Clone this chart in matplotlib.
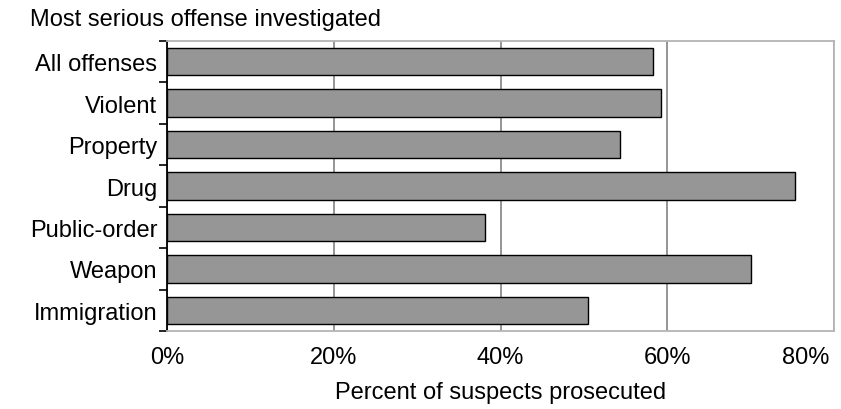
import numpy as np
import matplotlib
matplotlib.use('Agg')
import matplotlib.pyplot as plt
from matplotlib.ticker import FuncFormatter
from matplotlib.transforms import ScaledTranslation

offenses = ['All offenses', 'Violent', 'Property', 'Drug', 'Public-order', 'Weapon', 'Immigration']
pct_prosecuted = [58.3, 59.3, 54.3, 75.3, 38.2, 70.0, 50.5]
x_ticks = [0, 20, 40, 60, 80]

plt.rcParams['font.family'] = ['Liberation Sans', 'DejaVu Sans']
fs = 17

fig = plt.figure(figsize=(8.41, 4.10), dpi=100)
ax = fig.add_axes([167 / 841, 1 - 332 / 410, 667 / 841, 290 / 410])

y = np.arange(len(offenses))
ax.barh(y, pct_prosecuted, height=0.66, color='#969696', edgecolor='black', linewidth=1.0, zorder=3)

ax.set_xlim(0, 80)
ax.set_ylim(len(offenses) - 0.5, -0.5)
ax.set_xticks(x_ticks)
ax.xaxis.set_major_formatter(FuncFormatter(lambda v, _: f'{v:.0f}%'))
ax.tick_params(axis='x', length=0, labelsize=fs, pad=11)
ax.grid(axis='x', color='#8c8c8c', linewidth=1.3, zorder=0)

# keep the last percent label inside the figure
last = ax.get_xticklabels()[-1]
last.set_transform(last.get_transform() + ScaledTranslation(-28 / 100, 0, fig.dpi_scale_trans))

ax.set_yticks(y)
ax.set_yticklabels(offenses)
ax.tick_params(axis='y', length=0, labelsize=fs, pad=7)
ax.set_yticks(np.arange(len(offenses) + 1) - 0.5, minor=True)
ax.tick_params(axis='y', which='minor', length=6, width=1.2, color='black')

for side in ['top', 'right', 'bottom']:
    ax.spines[side].set_color('#b4b4b4')
    ax.spines[side].set_linewidth(1.3)
ax.spines['left'].set_color('black')
ax.spines['left'].set_linewidth(1.3)

fig.text(30 / 841, 1 - 20 / 410, 'Most serious offense investigated', fontsize=fs, ha='left', va='center')
ax.set_xlabel('Percent of suspects prosecuted', fontsize=fs, labelpad=9)

fig.savefig('out.png', dpi=100)
